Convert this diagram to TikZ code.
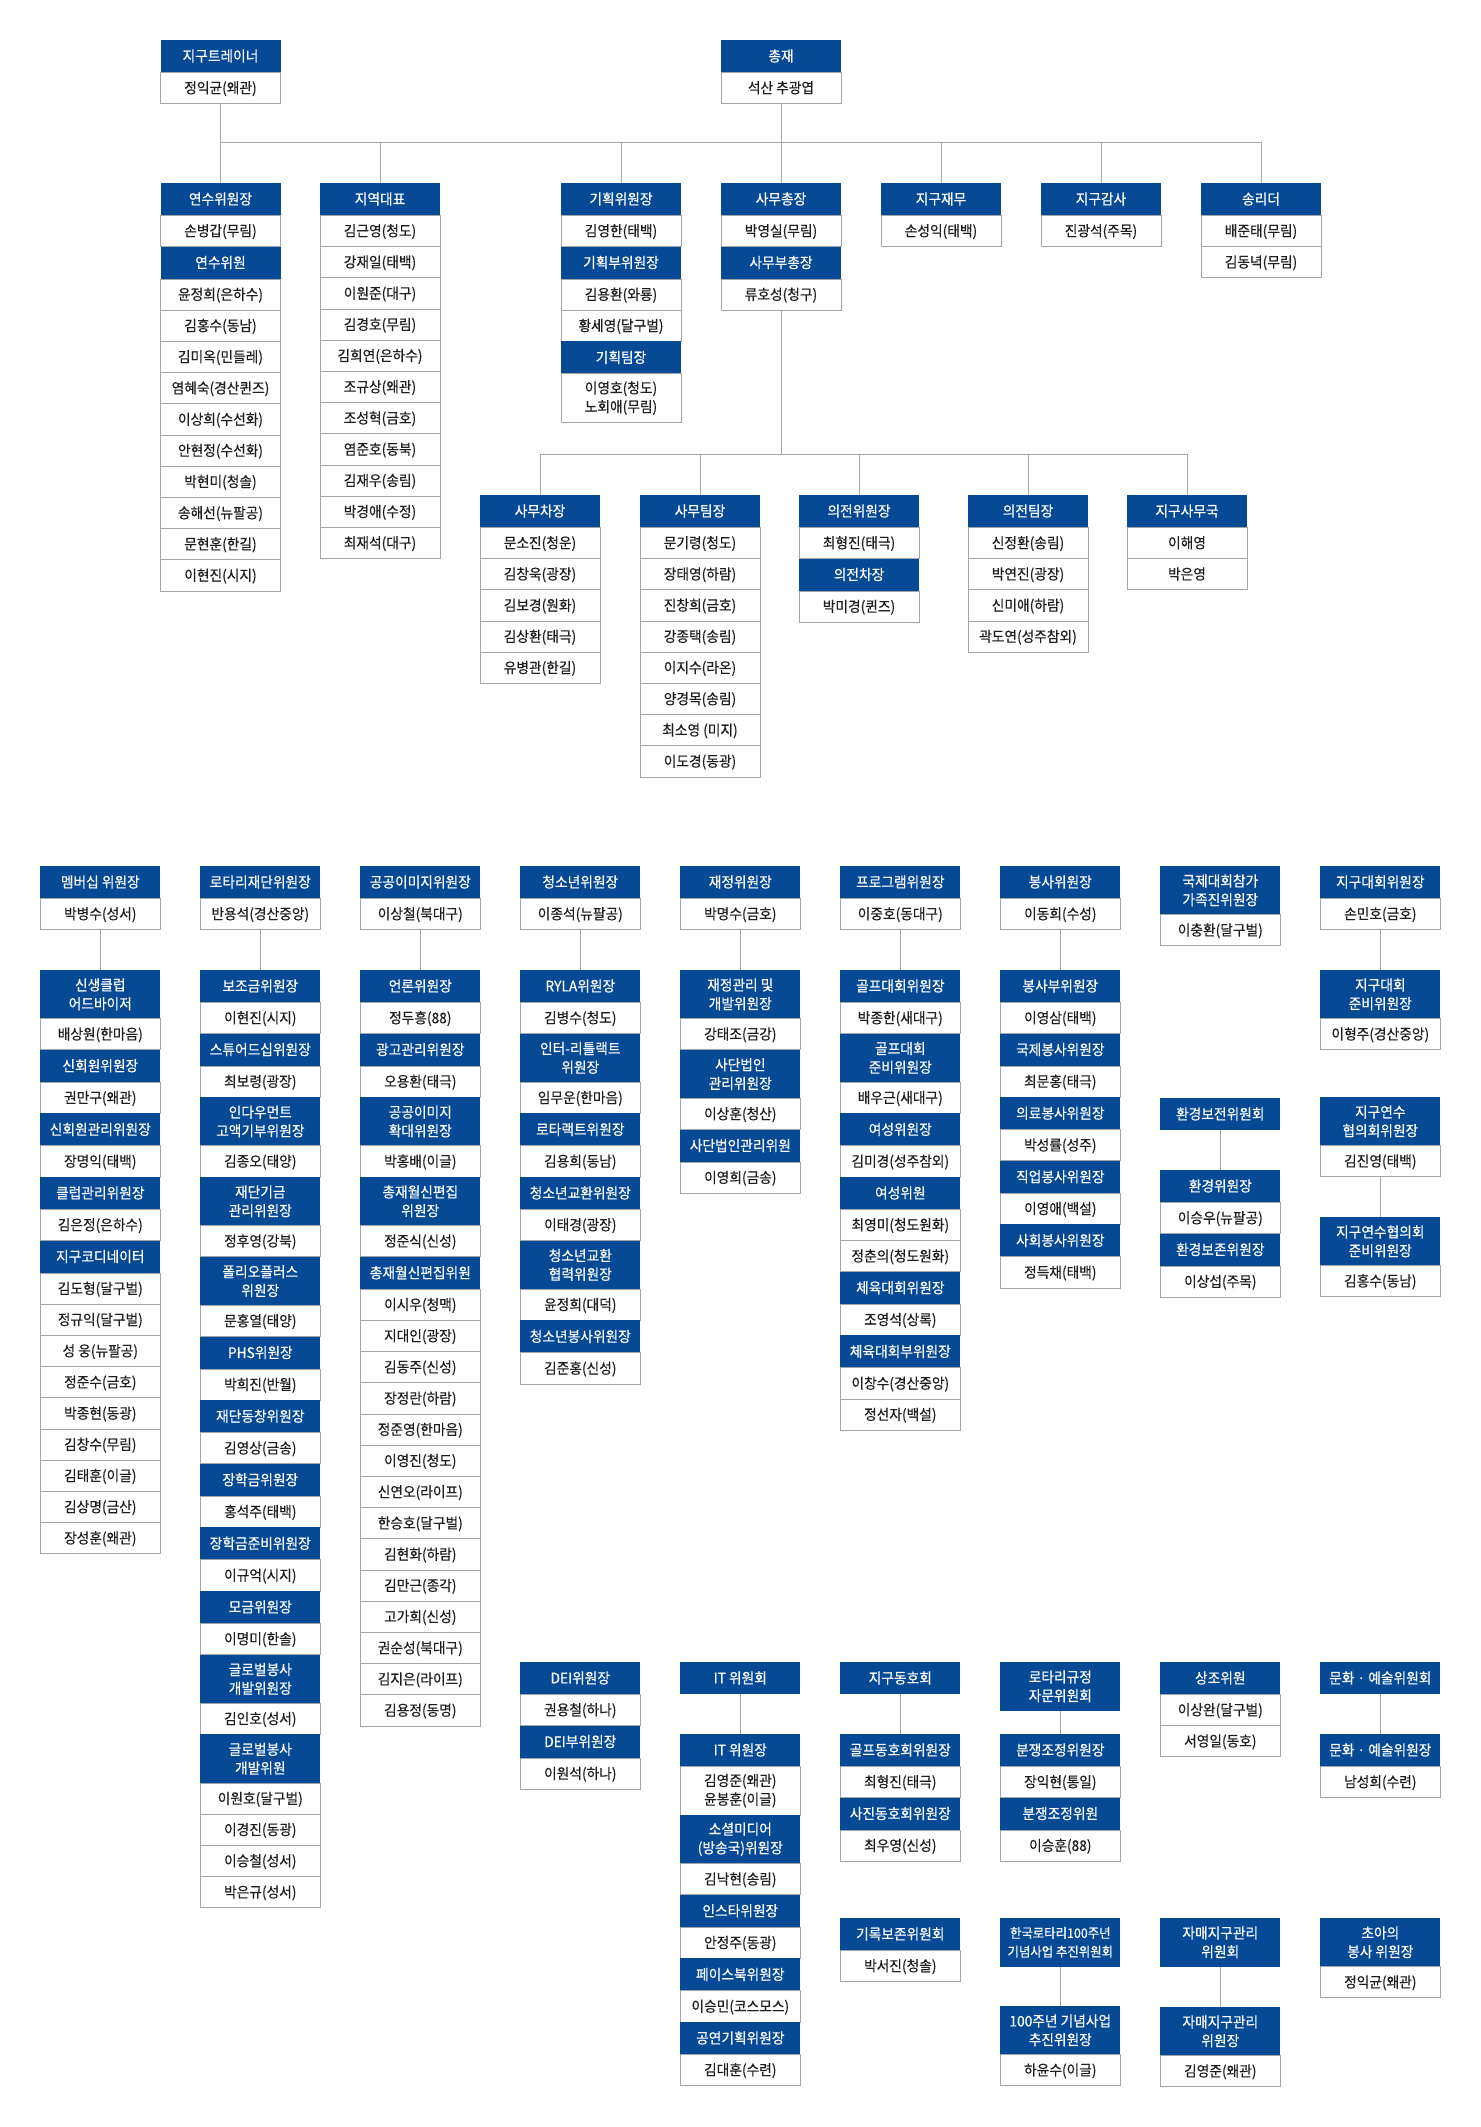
\documentclass[tikz,border=0pt]{standalone}
\usepackage{fontspec}
\newfontfamily\kr[FakeStretch=0.94,FakeBold=0.35]{Noto Sans CJK KR}
\definecolor{hblue}{HTML}{064A96}
\definecolor{lgray}{HTML}{A6A6A6}
\definecolor{txt}{HTML}{1E1E1E}
\tikzset{
  cell/.style={anchor=north, minimum width=120pt, inner sep=0pt, outer sep=0pt,
               font=\kr\fontsize{14.6}{18.7}\selectfont},
  hd/.style={cell, fill=hblue, text=white, minimum height=32.4pt, text height=12.5pt, text depth=2pt},
  hdd/.style={cell, align=center, fill=hblue, text=white, minimum height=48.6pt},
  hds/.style={hdd, font=\kr\fontsize{13.2}{18.7}\selectfont},
  nm/.style={cell, draw=lgray, line width=1pt, fill=white, text=txt, minimum height=31.2pt, text height=12.5pt, text depth=2pt},
  nmm/.style={cell, align=center, draw=lgray, line width=1pt, fill=white, text=txt, minimum height=48.6pt},
  ln/.style={draw=lgray, line width=1pt},
}
\newcommand\stk[4]{%
  \foreach \ty/\tx [count=\i] in {#4}{%
    \ifnum\i=1\relax
      \node[\ty] (#1\i) at (#2,#3) {\tx};
    \else
      \pgfmathtruncatemacro\pj{\i-1}%
      \node[\ty] (#1\i) at (#1\pj.south) {\tx};
    \fi}}
\begin{document}
\begin{tikzpicture}[x=1pt,y=-1pt]
\fill[white] (0,0) rectangle (1480,2127);
\useasboundingbox (0,0) rectangle (1480,2127);

% ---------- top ----------
\stk{tr}{220.5}{40}{hd/지구트레이너,nm/정익균(왜관)}
\stk{pr}{781}{40}{hd/총재,nm/석산 추광엽}
\stk{ys}{220.5}{183}{hd/연수위원장,nm/손병갑(무림),hd/연수위원,nm/윤정희(은하수),nm/김홍수(동남),nm/김미옥(민들레),nm/염혜숙(경산퀸즈),nm/이상희(수선화),nm/안현정(수선화),nm/박현미(청솔),nm/송해선(뉴팔공),nm/문현훈(한길),nm/이현진(시지)}
\stk{jy}{380}{183}{hd/지역대표,nm/김근영(청도),nm/강재일(태백),nm/이원준(대구),nm/김경호(무림),nm/김희연(은하수),nm/조규상(왜관),nm/조성혁(금호),nm/염준호(동북),nm/김재우(송림),nm/박경애(수정),nm/최재석(대구)}
\stk{gh}{621}{183}{hd/기획위원장,nm/김영한(태백),hd/기획부위원장,nm/김용환(와룡),nm/황세영(달구벌),hd/기획팀장,nmm/이영호(청도)\\노회애(무림)}
\stk{sm}{781}{183}{hd/사무총장,nm/박영실(무림),hd/사무부총장,nm/류호성(청구)}
\stk{jm}{941}{183}{hd/지구재무,nm/손성익(태백)}
\stk{gs}{1101}{183}{hd/지구감사,nm/진광석(주목)}
\stk{sr}{1261}{183}{hd/송리더,nm/배준태(무림),nm/김동녁(무림)}

\coordinate (bus) at (0,142.5);
\draw[ln] (tr2.south) -- (ys1.north);
\draw[ln] (pr2.south) -- (sm1.north);
\draw[ln] (tr2.south |- bus) -- (sr1.north |- bus);
\foreach \n in {jy1,gh1,jm1,gs1,sr1} \draw[ln] (\n.north) -- (\n.north |- bus);

% ---------- second tier ----------
\stk{sc}{540}{495}{hd/사무차장,nm/문소진(청운),nm/김창욱(광장),nm/김보경(원화),nm/김상환(태극),nm/유병관(한길)}
\stk{st}{700}{495}{hd/사무팀장,nm/문기령(청도),nm/장태영(하람),nm/진창희(금호),nm/강종택(송림),nm/이지수(라온),nm/양경목(송림),nm/최소영 (미지),nm/이도경(동광)}
\stk{uw}{859}{495}{hd/의전위원장,nm/최형진(태극),hd/의전차장,nm/박미경(퀸즈)}
\stk{ut}{1028}{495}{hd/의전팀장,nm/신정환(송림),nm/박연진(광장),nm/신미애(하람),nm/곽도연(성주참외)}
\stk{sk}{1187}{495}{hd/지구사무국,nm/이해영,nm/박은영}

\coordinate (bus2) at (0,454);
\draw[ln] (sm4.south) -- (sm4.south |- bus2);
\draw[ln] (sc1.north |- bus2) -- (sk1.north |- bus2);
\foreach \n in {sc1,st1,uw1,ut1,sk1} \draw[ln] (\n.north) -- (\n.north |- bus2);

% ---------- committees row A ----------
\stk{c1a}{100.3}{866}{hd/멤버십 위원장,nm/박병수(성서)}
\stk{c2a}{260.3}{866}{hd/로타리재단위원장,nm/반용석(경산중앙)}
\stk{c3a}{420.3}{866}{hd/공공이미지위원장,nm/이상철(북대구)}
\stk{c4a}{580.3}{866}{hd/청소년위원장,nm/이종석(뉴팔공)}
\stk{c5a}{740.3}{866}{hd/재정위원장,nm/박명수(금호)}
\stk{c6a}{900.3}{866}{hd/프로그램위원장,nm/이중호(동대구)}
\stk{c7a}{1060.3}{866}{hd/봉사위원장,nm/이동희(수성)}
\stk{c8a}{1220.3}{866}{hdd/국제대회참가\\가족진위원장,nm/이충환(달구벌)}
\stk{c9a}{1380.3}{866}{hd/지구대회위원장,nm/손민호(금호)}

% ---------- committees row B ----------
\stk{c1b}{100.3}{970}{hdd/신생클럽\\어드바이저,nm/배상원(한마음),hd/신회원위원장,nm/권만구(왜관),hd/신회원관리위원장,nm/장명익(태백),hd/클럽관리위원장,nm/김은정(은하수),hd/지구코디네이터,nm/김도형(달구벌),nm/정규익(달구벌),nm/성 웅(뉴팔공),nm/정준수(금호),nm/박종현(동광),nm/김창수(무림),nm/김태훈(이글),nm/김상명(금산),nm/장성훈(왜관)}
\stk{c2b}{260.3}{970}{hd/보조금위원장,nm/이현진(시지),hd/스튜어드십위원장,nm/최보령(광장),hdd/인다우먼트\\고액기부위원장,nm/김종오(태양),hdd/재단기금\\관리위원장,nm/정후영(강북),hdd/폴리오플러스\\위원장,nm/문홍열(태양),hd/PHS위원장,nm/박희진(반월),hd/재단동창위원장,nm/김영상(금송),hd/장학금위원장,nm/홍석주(태백),hd/장학금준비위원장,nm/이규억(시지),hd/모금위원장,nm/이명미(한솔),hdd/글로벌봉사\\개발위원장,nm/김인호(성서),hdd/글로벌봉사\\개발위원,nm/이원호(달구벌),nm/이경진(동광),nm/이승철(성서),nm/박은규(성서)}
\stk{c3b}{420.3}{970}{hd/언론위원장,nm/정두흥(88),hd/광고관리위원장,nm/오용환(태극),hdd/공공이미지\\확대위원장,nm/박홍배(이글),hdd/총재월신편집\\위원장,nm/정준식(신성),hd/총재월신편집위원,nm/이시우(청맥),nm/지대인(광장),nm/김동주(신성),nm/장정란(하람),nm/정준영(한마음),nm/이영진(청도),nm/신연오(라이프),nm/한승호(달구벌),nm/김현화(하람),nm/김만근(종각),nm/고가희(신성),nm/권순성(북대구),nm/김지은(라이프),nm/김용정(동명)}
\stk{c4b}{580.3}{970}{hd/RYLA위원장,nm/김병수(청도),hdd/인터-리틀랙트\\위원장,nm/임무운(한마음),hd/로타랙트위원장,nm/김용희(동남),hd/청소년교환위원장,nm/이태경(광장),hdd/청소년교환\\협력위원장,nm/윤정희(대덕),hd/청소년봉사위원장,nm/김준홍(신성)}
\stk{c5b}{740.3}{970}{hdd/재정관리 및\\개발위원장,nm/강태조(금강),hdd/사단법인\\관리위원장,nm/이상훈(청산),hd/사단법인관리위원,nm/이영희(금송)}
\stk{c6b}{900.3}{970}{hd/골프대회위원장,nm/박종한(새대구),hdd/골프대회\\준비위원장,nm/배우근(새대구),hd/여성위원장,nm/김미경(성주참외),hd/여성위원,nm/최영미(청도원화),nm/정춘의(청도원화),hd/체육대회위원장,nm/조영석(상록),hd/체육대회부위원장,nm/이창수(경산중앙),nm/정선자(백설)}
\stk{c7b}{1060.3}{970}{hd/봉사부위원장,nm/이영삼(태백),hd/국제봉사위원장,nm/최문홍(태극),hd/의료봉사위원장,nm/박성률(성주),hd/직업봉사위원장,nm/이영애(백설),hd/사회봉사위원장,nm/정득채(태백)}
\stk{c9b}{1380.3}{970}{hdd/지구대회\\준비위원장,nm/이형주(경산중앙)}

\stk{c8c}{1220.3}{1098}{hd/환경보전위원회}
\stk{c8d}{1220.3}{1170}{hd/환경위원장,nm/이승우(뉴팔공),hd/환경보존위원장,nm/이상섭(주목)}
\stk{c9c}{1380.3}{1097}{hdd/지구연수\\협의회위원장,nm/김진영(태백)}
\stk{c9d}{1380.3}{1217}{hdd/지구연수협의회\\준비위원장,nm/김홍수(동남)}

% ---------- row C ----------
\stk{c4e}{580.3}{1662}{hd/DEI위원장,nm/권용철(하나),hd/DEI부위원장,nm/이원석(하나)}
\stk{c5e}{740.3}{1662}{hd/IT 위원회}
\stk{c5f}{740.3}{1734}{hd/IT 위원장,nmm/김영준(왜관)\\윤봉훈(이글),hdd/소셜미디어\\(방송국)위원장,nm/김낙현(송림),hd/인스타위원장,nm/안정주(동광),hd/페이스북위원장,nm/이승민(코스모스),hd/공연기획위원장,nm/김대훈(수련)}
\stk{c6e}{900.3}{1662}{hd/지구동호회}
\stk{c6f}{900.3}{1734}{hd/골프동호회위원장,nm/최형진(태극),hd/사진동호회위원장,nm/최우영(신성)}
\stk{c7e}{1060.3}{1662}{hdd/로타리규정\\자문위원회}
\stk{c7f}{1060.3}{1734}{hd/분쟁조정위원장,nm/장익현(통일),hd/분쟁조정위원,nm/이승훈(88)}
\stk{c8e}{1220.3}{1662}{hd/상조위원,nm/이상완(달구벌),nm/서영일(동호)}
\stk{c9e}{1380.3}{1662}{hd/문화 · 예술위원회}
\stk{c9f}{1380.3}{1734}{hd/문화 · 예술위원장,nm/남성희(수련)}

% ---------- row D ----------
\stk{c6g}{900.3}{1918}{hd/기록보존위원회,nm/박서진(청솔)}
\stk{c7g}{1060.3}{1918}{hds/한국로타리100주년\\기념사업 추진위원회}
\stk{c7h}{1060.3}{2006}{hdd/100주년 기념사업\\추진위원장,nm/하윤수(이글)}
\stk{c8g}{1220.3}{1918}{hdd/자매지구관리\\위원회}
\stk{c8h}{1220.3}{2007}{hdd/자매지구관리\\위원장,nm/김영준(왜관)}
\stk{c9g}{1380.3}{1918}{hdd/초아의\\봉사 위원장,nm/정익균(왜관)}

% ---------- connectors ----------
\foreach \u/\v in {c1a2/c1b1,c2a2/c2b1,c3a2/c3b1,c4a2/c4b1,c5a2/c5b1,c6a2/c6b1,c7a2/c7b1,c9a2/c9b1,
  c8c1/c8d1,c9c2/c9d1,c5e1/c5f1,c6e1/c6f1,c7e1/c7f1,c9e1/c9f1,c7g1/c7h1,c8g1/c8h1}
  \draw[ln] (\u.south) -- (\v.north);
\end{tikzpicture}
\end{document}
